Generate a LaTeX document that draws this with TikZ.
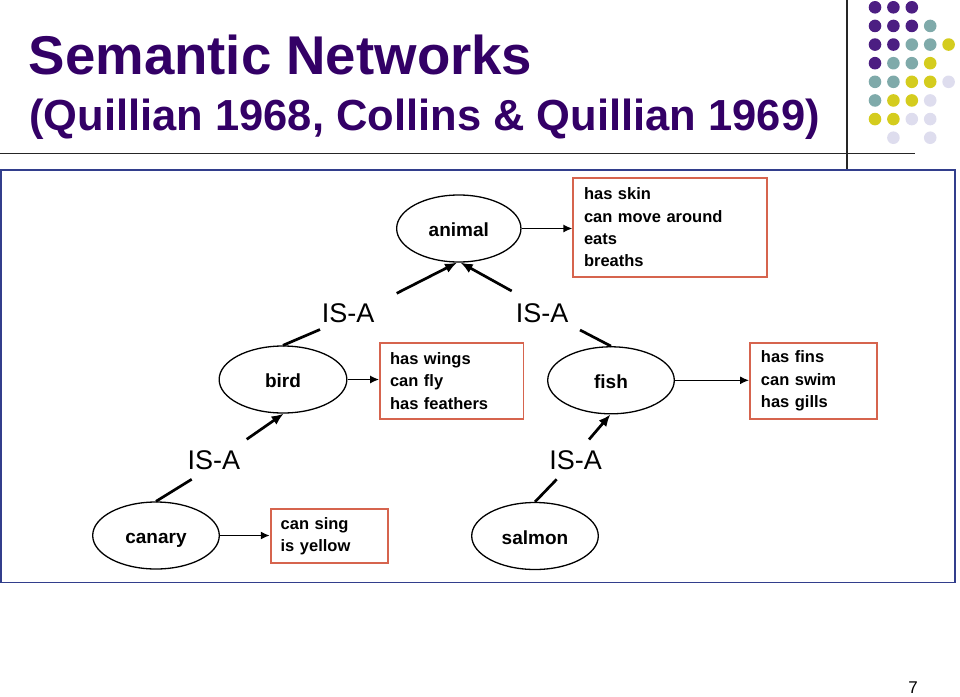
\documentclass[tikz,border=0pt]{standalone}
\usepackage{fontspec}
\setmainfont{Liberation Sans}
\usetikzlibrary{shapes.geometric,arrows.meta}
\definecolor{titlepurple}{RGB}{51,0,102}
\definecolor{dpurple}{RGB}{76,30,130}
\definecolor{dteal}{RGB}{127,170,170}
\definecolor{dyellow}{RGB}{212,204,30}
\definecolor{dlav}{RGB}{222,221,238}
\definecolor{boxred}{RGB}{214,100,78}
\definecolor{frameblue}{RGB}{50,62,140}
\tikzset{
  concept/.style={ellipse, draw=black, line width=1.3pt, inner sep=0pt,
    minimum width=126pt, minimum height=67pt, text height=17pt, text depth=0.6pt,
    font=\bfseries\fontsize{19}{22}\selectfont},
  propbox/.style={rectangle, draw=boxred, line width=1.7pt, inner ysep=0pt,
    align=left, font=\bfseries\fontsize{16.5}{22.3}\selectfont},
  isalabel/.style={inner sep=0pt, font=\fontsize{27}{30}\selectfont},
  isaline/.style={line width=2.7pt},
  isaarrow/.style={line width=2.7pt, -{Latex[length=12pt,width=10pt]}},
  proparrow/.style={line width=1.6pt, -{Latex[length=9pt,width=8pt]}},
}
\begin{document}
\begin{tikzpicture}[x=1pt,y=-1pt]
\useasboundingbox (0,0) rectangle (960,696);

% decoration dots
\foreach \c/\r/\col in {0/0/dpurple,1/0/dpurple,2/0/dpurple,
  0/1/dpurple,1/1/dpurple,2/1/dpurple,3/1/dteal,
  0/2/dpurple,1/2/dpurple,2/2/dteal,3/2/dteal,4/2/dyellow,
  0/3/dpurple,1/3/dteal,2/3/dteal,3/3/dyellow,
  0/4/dteal,1/4/dteal,2/4/dyellow,3/4/dyellow,4/4/dlav,
  0/5/dteal,1/5/dyellow,2/5/dyellow,3/5/dlav,
  0/6/dyellow,1/6/dyellow,2/6/dlav,3/6/dlav,
  1/7/dlav,3/7/dlav}
  \fill[\col] (875+18.4*\c, 7.3+18.63*\r) circle[radius=6.3];

% rules
\draw[line width=1.5pt, black!85] (847,0) -- (847,170);
\draw[line width=1.5pt, black!85] (0,153.3) -- (915,153.3);

% frame
\draw[frameblue, line width=1.8pt] (1,170) rectangle (955,582.5);

% title
\node[anchor=base west, inner sep=0pt, text=titlepurple,
  font=\bfseries\fontsize{54.6}{60}\selectfont] (title1) at (28.5,74) {Semantic Networks};
\node[anchor=base west, inner sep=0pt, text=titlepurple,
  font=\bfseries\fontsize{43.5}{50}\selectfont] (title2) at (29,130) {(Quillian 1968, Collins \& Quillian 1969)};

% concept nodes
\node[concept, minimum width=124.3pt] (animal) at (458.8,228.5) {animal};
\node[concept, minimum width=127.7pt] (bird) at (283,379.5) {bird};
\node[concept, minimum width=126.6pt] (fish) at (611,380.3) {fish};
\node[concept, minimum width=126.6pt] (canary) at (156,535.5) {canary};
\node[concept, minimum width=126.6pt] (salmon) at (535,536) {salmon};

% property boxes
\node[propbox, inner xsep=10.7pt, text width=172.6pt, minimum width=194pt, minimum height=98.4pt]
  (animalbox) at (670.3,227.5) {has skin\\can move around\\eats\\breaths};
\node[propbox, inner xsep=10pt, text width=123.3pt, minimum width=143.3pt, minimum height=76.6pt]
  (birdbox) at (451.7,381) {has wings\\can fly\\has feathers};
\node[propbox, inner xsep=11pt, text width=104.7pt, minimum width=126.7pt, minimum height=76.3pt]
  (fishbox) at (813.3,380.8) {has fins\\can swim\\has gills};
\node[propbox, inner xsep=10pt, text width=97.3pt, minimum width=117.3pt, minimum height=54.3pt]
  (canarybox) at (329.3,535.9) {can sing\\is yellow};

% IS-A labels
\node[isalabel] (isa1) at (348,313.3) {IS-A};
\node[isalabel] (isa2) at (542,313.3) {IS-A};
\node[isalabel] (isa3) at (213.8,459.7) {IS-A};
\node[isalabel] (isa4) at (575.7,459.7) {IS-A};

% line end points
\coordinate (s1) at (396.7,293.3);
\coordinate (s2) at (511.7,291);
\coordinate (s3) at (320,329.5);
\coordinate (s4) at (580,330);
\coordinate (s5) at (246.7,439.3);
\coordinate (s6) at (589,439.5);
\coordinate (s7) at (191.7,479.3);
\coordinate (s8) at (556.7,479.3);

% IS-A connectors
\draw[isaarrow] (s1) -- (animal.-93);
\draw[isaarrow] (s2) -- (animal.-87);
\draw[isaline] (s3) -- (bird.north);
\draw[isaline] (s4) -- (fish.north);
\draw[isaarrow] (s5) -- (bird.-89);
\draw[isaarrow] (s6) -- (fish.-91);
\draw[isaline] (s7) -- (canary.north);
\draw[isaline] (s8) -- (salmon.north);

% property arrows
\draw[proparrow] (animal.east) -- (animal.east -| animalbox.west);
\draw[proparrow] (bird.east) -- (bird.east -| birdbox.west);
\draw[proparrow] (fish.east) -- (fish.east -| fishbox.west);
\draw[proparrow] (canary.east) -- (canary.east -| canarybox.west);

% page number
\node[inner sep=0pt, font=\fontsize{17}{19}\selectfont] (pagenum) at (913,688) {7};
\end{tikzpicture}
\end{document}
